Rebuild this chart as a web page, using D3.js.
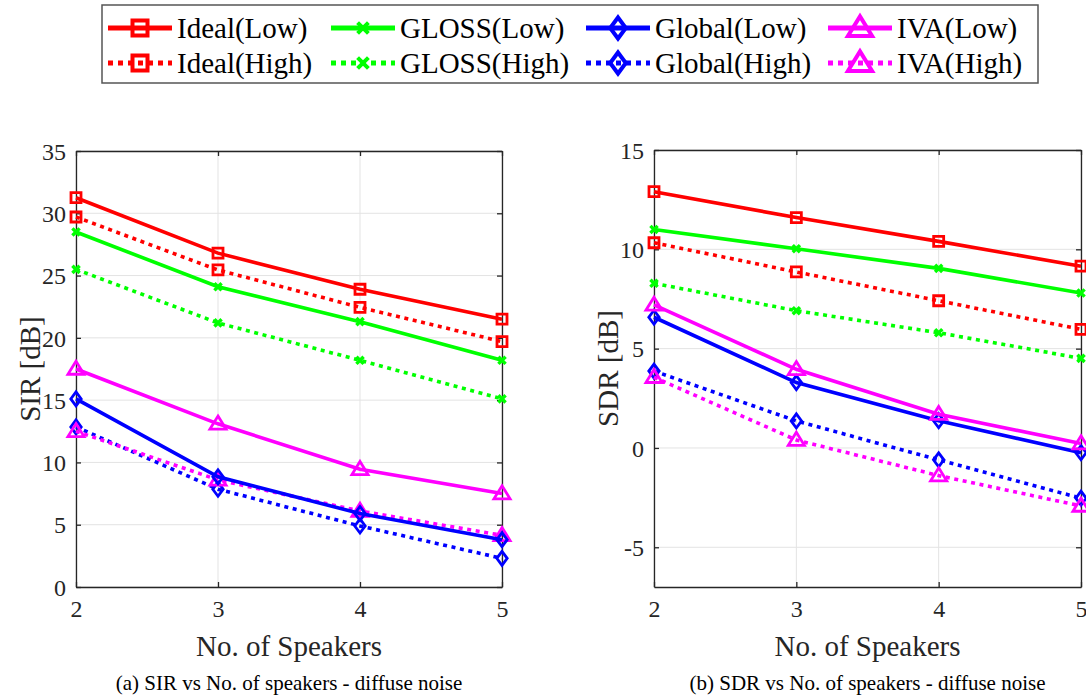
<!DOCTYPE html>
<html lang="en">
<head>
<meta charset="utf-8" />
<title>SIR / SDR vs No. of speakers</title>
<script src="https://cdn.jsdelivr.net/npm/d3@7/dist/d3.min.js"></script>
<style>
    body { margin: 0; background: #fff; }
    svg text { font-family: "Liberation Serif", "Times New Roman", serif !important; }
    .grid line { stroke: #e3e3e3; stroke-width: 1px; }
    .axis path, .axis line { stroke: #262626; stroke-width: 1.3px; }
    .axis text { fill: #262626; font-size: 24px; }
    .series { fill: none; stroke-width: 3.6px; }
</style>
</head>
<body>
<div id="chart"></div>
<script>
    // data
    const speakers = [2, 3, 4, 5];
    const seriesNames = ['Ideal(Low)', 'GLOSS(Low)', 'Global(Low)', 'IVA(Low)',
                         'Ideal(High)', 'GLOSS(High)', 'Global(High)', 'IVA(High)'];

    const sirIdealLow   = [31.25, 26.8, 23.9, 21.5];
    const sirGlossLow   = [28.5, 24.1, 21.3, 18.2];
    const sirGlobalLow  = [15.1, 8.85, 5.9, 3.8];
    const sirIvaLow     = [17.5, 13.1, 9.45, 7.5];
    const sirIdealHigh  = [29.7, 25.45, 22.45, 19.7];
    const sirGlossHigh  = [25.5, 21.2, 18.2, 15.1];
    const sirGlobalHigh = [12.85, 7.85, 4.9, 2.3];
    const sirIvaHigh    = [12.5, 8.6, 6.1, 4.15];

    const sdrIdealLow   = [12.9, 11.6, 10.4, 9.15];
    const sdrGlossLow   = [11.0, 10.03, 9.04, 7.8];
    const sdrGlobalLow  = [6.58, 3.29, 1.37, -0.24];
    const sdrIvaLow     = [7.2, 3.96, 1.7, 0.22];
    const sdrIdealHigh  = [10.33, 8.86, 7.41, 5.97];
    const sdrGlossHigh  = [8.29, 6.91, 5.8, 4.51];
    const sdrGlobalHigh = [3.87, 1.36, -0.6, -2.53];
    const sdrIvaHigh    = [3.56, 0.4, -1.39, -2.92];

    const sirTicks = [0, 5, 10, 15, 20, 25, 30, 35];
    const sdrTicks = [-5, 0, 5, 10, 15];

    const sirSeries = [sirIdealLow, sirGlossLow, sirGlobalLow, sirIvaLow,
                       sirIdealHigh, sirGlossHigh, sirGlobalHigh, sirIvaHigh];
    const sdrSeries = [sdrIdealLow, sdrGlossLow, sdrGlobalLow, sdrIvaLow,
                       sdrIdealHigh, sdrGlossHigh, sdrGlobalHigh, sdrIvaHigh];

    // styles
    const colors = ['#ff0000', '#00ff00', '#0000ff', '#ff00ff'];
    const markers = ['square', 'cross', 'diamond', 'triangle'];
    const style = (i) => ({
        color: colors[i % 4],
        marker: markers[i % 4],
        dash: i < 4 ? null : '4,4.6'
    });
    const FONT = '"Liberation Serif", "Times New Roman", serif';

    const W = 1086, H = 698;
    const svg = d3.select('#chart').append('svg')
        .attr('width', W)
        .attr('height', H);

    function markerPath(type, s) {
        // s = half size
        switch (type) {
            case 'square':
                return `M${-s},${-s}H${s}V${s}H${-s}Z`;
            case 'cross':
                return `M${-s},${-s}L${s},${s}M${-s},${s}L${s},${-s}`;
            case 'diamond':
                return `M0,${-s * 1.35}L${s},0L0,${s * 1.35}L${-s},0Z`;
            case 'triangle':
                return `M0,${-s * 1.25}L${s * 1.3},${s * 0.85}L${-s * 1.3},${s * 0.85}Z`;
        }
    }
    const markerSize = {square: 5, cross: 3.6, diamond: 5.2, triangle: 6.2};
    const plainNum = d => String(d);   // hyphen minus, like the original

    function drawPanel(opts) {
        const x = d3.scaleLinear().domain([2, 5]).range([opts.left, opts.right]);
        const y = d3.scaleLinear().domain(opts.yDomain).range([opts.bottom, opts.top]);
        const g = svg.append('g');

        // grid
        const grid = g.append('g').attr('class', 'grid');
        grid.selectAll('.gx').data(speakers).enter().append('line')
            .attr('x1', d => x(d)).attr('x2', d => x(d))
            .attr('y1', opts.top).attr('y2', opts.bottom);
        grid.selectAll('.gy').data(opts.ticks).enter().append('line')
            .attr('y1', d => y(d)).attr('y2', d => y(d))
            .attr('x1', opts.left).attr('x2', opts.right);

        // axes (ticks inward, box on)
        const bottomAxis = g.append('g').attr('class', 'axis')
            .attr('transform', 'translate(0,' + opts.bottom + ')')
            .call(d3.axisBottom(x).tickValues(speakers).tickFormat(plainNum)
                .tickSizeInner(-5).tickSizeOuter(0).tickPadding(13));
        g.append('g').attr('class', 'axis')
            .attr('transform', 'translate(0,' + opts.top + ')')
            .call(d3.axisTop(x).tickValues(speakers).tickFormat('')
                .tickSizeInner(-5).tickSizeOuter(0));
        const leftAxis = g.append('g').attr('class', 'axis')
            .attr('transform', 'translate(' + opts.left + ',0)')
            .call(d3.axisLeft(y).tickValues(opts.ticks).tickFormat(plainNum)
                .tickSizeInner(-5).tickSizeOuter(0).tickPadding(10));
        g.append('g').attr('class', 'axis')
            .attr('transform', 'translate(' + opts.right + ',0)')
            .call(d3.axisRight(y).tickValues(opts.ticks).tickFormat('')
                .tickSizeInner(-5).tickSizeOuter(0));
        g.selectAll('.axis').attr('font-family', FONT).attr('font-size', 24);
        leftAxis.selectAll('text').attr('dy', '0.34em');

        // lines
        const line = d3.line()
            .x((d, i) => x(speakers[i]))
            .y(d => y(d));
        // dotted (high) first, solid (low) on top
        const order = [4, 5, 6, 7, 0, 1, 2, 3];
        order.forEach(k => {
            const st = style(k);
            const vals = opts.series[k];
            g.append('path')
                .datum(vals)
                .attr('class', 'series')
                .attr('d', line)
                .style('stroke', st.color)
                .style('stroke-dasharray', st.dash);
            g.selectAll(null).data(vals).enter().append('path')
                .attr('transform', (d, i) => 'translate(' + x(speakers[i]) + ',' + y(d) + ')')
                .attr('d', markerPath(st.marker, markerSize[st.marker]))
                .style('fill', 'none')
                .style('stroke', st.color)
                .style('stroke-width', st.marker === 'cross' ? 3.4 : 2.8);
        });

        // labels
        const cx = (opts.left + opts.right) / 2;
        g.append('text')
            .attr('transform', 'translate(' + opts.yLabelX + ',' + ((opts.top + opts.bottom) / 2) + ') rotate(-90)')
            .attr('text-anchor', 'middle')
            .attr('dominant-baseline', 'central')
            .style('font-family', FONT)
            .style('font-size', '29px')
            .style('fill', '#262626')
            .text(opts.yLabel);
        g.append('text')
            .attr('x', cx).attr('y', 656)
            .attr('text-anchor', 'middle')
            .style('font-family', FONT)
            .style('font-size', '29px')
            .style('fill', '#262626')
            .text('No. of Speakers');
        g.append('text')
            .attr('x', cx).attr('y', 690)
            .attr('text-anchor', 'middle')
            .style('font-family', FONT)
            .style('font-size', '21px')
            .style('fill', '#000')
            .text(opts.caption);
    }

    drawPanel({
        left: 76, right: 502, top: 151, bottom: 587,
        yDomain: [0, 35], ticks: sirTicks, series: sirSeries,
        yLabel: 'SIR [dB]', yLabelX: 30,
        caption: '(a) SIR vs No. of speakers - diffuse noise'
    });
    drawPanel({
        left: 654, right: 1081, top: 150, bottom: 587,
        yDomain: [-7, 15], ticks: sdrTicks, series: sdrSeries,
        yLabel: 'SDR [dB]', yLabelX: 608,
        caption: '(b) SDR vs No. of speakers - diffuse noise'
    });

    // legend
    const legend = svg.append('g');
    legend.append('rect')
        .attr('x', 102).attr('y', 5)
        .attr('width', 936).attr('height', 78)
        .style('fill', '#fff')
        .style('stroke', '#555')
        .style('stroke-width', 1.5);
    const colX = [108, 331, 586, 828];
    const rowY = [28, 63];
    const items = legend.selectAll('.leg').data(seriesNames).enter().append('g')
        .attr('transform', (d, i) => 'translate(' + colX[i % 4] + ',' + rowY[Math.floor(i / 4)] + ')');
    items.append('line')
        .attr('x1', 0).attr('x2', 64).attr('y1', 0).attr('y2', 0)
        .style('stroke', (d, i) => style(i).color)
        .style('stroke-width', 5)
        .style('stroke-dasharray', (d, i) => style(i).dash ? '5,5' : null);
    items.append('path')
        .attr('transform', 'translate(32,0)')
        .attr('d', (d, i) => markerPath(style(i).marker, markerSize[style(i).marker] * 1.5))
        .style('fill', 'none')
        .style('stroke', (d, i) => style(i).color)
        .style('stroke-width', 4);
    items.append('text')
        .attr('x', 69).attr('y', 0)
        .attr('dy', '0.35em')
        .style('font-family', FONT)
        .style('font-size', '29px')
        .style('fill', '#000')
        .text(d => d);
</script>
</body>
</html>
